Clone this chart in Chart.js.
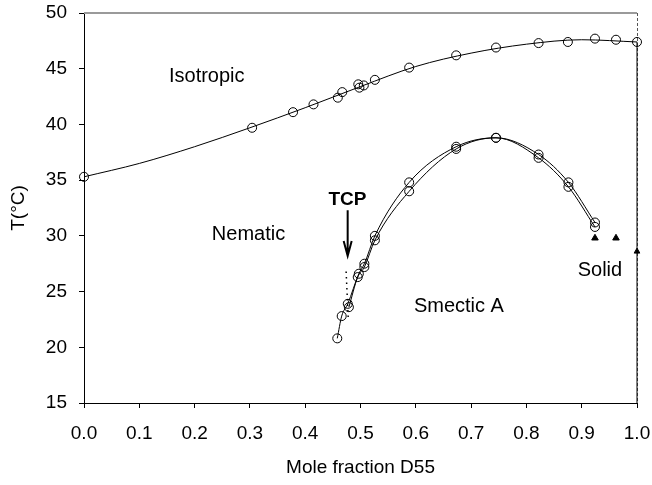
<!DOCTYPE html>
<html>
<head>
<meta charset="utf-8">
<script src="https://cdn.jsdelivr.net/npm/chart.js@4.4.0/dist/chart.umd.min.js"></script>
<style>
  html, body { margin: 0; padding: 0; background: #fff; }
  #wrap { width: 652px; height: 485px; }
</style>
</head>
<body>
<div id="wrap"><canvas id="phaseChart" width="652" height="485"></canvas></div>
<script>
// isotropic -> nematic points (open circles)
const isoX = [0.0, 0.304, 0.378, 0.415, 0.459, 0.467, 0.496, 0.498, 0.506, 0.526, 0.588, 0.673, 0.745, 0.822, 0.875, 0.924, 0.962, 1.0];
const isoT = [35.3, 39.7, 41.1, 41.8, 42.4, 42.9, 43.6, 43.3, 43.5, 44.0, 45.1, 46.2, 46.9, 47.3, 47.4, 47.7, 47.6, 47.4];
// fitted curve through them
const isoFitX = [0.0, 0.1, 0.2, 0.3, 0.4, 0.5, 0.6, 0.7, 0.8, 0.9, 1.0];
const isoFitT = [35.3, 36.5, 38.0, 39.7, 41.5, 43.4, 45.2, 46.4, 47.2, 47.6, 47.4];
// nematic -> smectic A, two runs
const smaX1 = [0.458, 0.466, 0.477, 0.497, 0.507, 0.526, 0.588, 0.673, 0.745, 0.822, 0.876, 0.924];
const smaT1 = [20.8, 22.8, 23.9, 26.6, 27.5, 30.0, 34.8, 38.0, 38.8, 37.3, 34.8, 31.2];
const smaX2 = [0.479, 0.495, 0.507, 0.526, 0.588, 0.673, 0.745, 0.822, 0.876, 0.924];
const smaT2 = [23.6, 26.3, 27.2, 29.6, 34.0, 37.8, 38.8, 37.0, 34.4, 30.8];
// melting (filled triangles)
const solidX = [0.924, 0.962];
const solidT = [29.8, 29.8];
const pureX = [1.0];
const pureT = [28.6];
const pureLineX = [1.0, 1.0];
const pureLineT = [15, 47.4];
// tricritical point, dotted
const tcpX = [0.474, 0.478];
const tcpT = [26.8, 22.4];

const xTicks = [0, 0.1, 0.2, 0.3, 0.4, 0.5, 0.6, 0.7, 0.8, 0.9, 1.0];
const yTicks = [15, 20, 25, 30, 35, 40, 45, 50];

const FONT = "'Liberation Sans', Arial, Helvetica, sans-serif";
const pts = (xs, ys) => xs.map((x, i) => ({ x, y: ys[i] }));

// text labels inside the plot (data units)
const notes = [
  { text: "Isotropic", x: 0.222, y: 44.45 },
  { text: "Nematic", x: 0.2975, y: 30.25 },
  { text: "TCP", x: 0.4765, y: 33.4, bold: true },
  { text: "Smectic A", x: 0.678, y: 23.8 },
  { text: "Solid", x: 0.933, y: 27.05 }
];

const decor = {
  id: "decor",
  beforeDatasetsDraw(chart) {
    const { ctx, chartArea: a } = chart;
    ctx.save();
    ctx.strokeStyle = "#9a9a9a";
    ctx.lineWidth = 2;
    ctx.beginPath();
    ctx.moveTo(a.left, a.top);
    ctx.lineTo(a.right, a.top);
    ctx.stroke();
    ctx.strokeStyle = "#555";
    ctx.lineWidth = 1;
    ctx.setLineDash([3, 2]);
    ctx.beginPath();
    ctx.moveTo(a.right + 0.5, a.top);
    ctx.lineTo(a.right + 0.5, a.bottom);
    ctx.stroke();
    ctx.restore();
  },
  afterDatasetsDraw(chart) {
    const { ctx, scales: { x, y } } = chart;
    ctx.save();
    ctx.fillStyle = "#000";
    ctx.textAlign = "center";
    ctx.textBaseline = "alphabetic";
    notes.forEach(n => {
      const size = n.bold ? 19 : 20;
      ctx.font = (n.bold ? "bold " : "") + size + "px " + FONT;
      ctx.fillText(n.text, x.getPixelForValue(n.x), y.getPixelForValue(n.y) + size * 0.358);
    });
    // TCP arrow
    const ax = x.getPixelForValue(0.4768);
    const y0 = y.getPixelForValue(32.3);
    const y1 = y.getPixelForValue(28.2);
    ctx.strokeStyle = "#000";
    ctx.lineWidth = 2;
    ctx.beginPath();
    ctx.moveTo(ax, y0);
    ctx.lineTo(ax, y1);
    ctx.moveTo(ax - 4, y1 - 15);
    ctx.lineTo(ax, y1);
    ctx.lineTo(ax + 4, y1 - 15);
    ctx.stroke();
    ctx.restore();
  }
};

new Chart(document.getElementById("phaseChart"), {
  type: "scatter",
  data: {
    datasets: [
      {
        data: pts(isoFitX, isoFitT), showLine: true, pointRadius: 0,
        borderColor: "#000", borderWidth: 1, cubicInterpolationMode: "monotone"
      },
      {
        data: pts(isoX, isoT), showLine: false, pointRadius: 4.5,
        pointBorderColor: "#000", pointBackgroundColor: "rgba(0,0,0,0)", pointBorderWidth: 1, clip: false
      },
      {
        data: pts(smaX1, smaT1), showLine: true, pointRadius: 4.5, cubicInterpolationMode: "monotone",
        borderColor: "#000", borderWidth: 1, pointBorderColor: "#000", pointBackgroundColor: "rgba(0,0,0,0)"
      },
      {
        data: pts(smaX2, smaT2), showLine: true, pointRadius: 4.5, cubicInterpolationMode: "monotone",
        borderColor: "#000", borderWidth: 1, pointBorderColor: "#000", pointBackgroundColor: "rgba(0,0,0,0)"
      },
      {
        data: pts(tcpX, tcpT), showLine: true, pointRadius: 0,
        borderColor: "#000", borderWidth: 1.5, borderDash: [1.5, 4]
      },
      {
        data: pts(pureLineX, pureLineT), showLine: true, pointRadius: 0,
        borderColor: "#000", borderWidth: 1, clip: false
      },
      {
        data: pts(solidX, solidT), showLine: false, pointStyle: "triangle", pointRadius: 3.8,
        pointBackgroundColor: "#000", pointBorderColor: "#000"
      },
      {
        data: pts(pureX, pureT), showLine: false, pointStyle: "triangle", pointRadius: 3.3,
        pointBackgroundColor: "#000", pointBorderColor: "#000", clip: false
      }
    ]
  },
  options: {
    responsive: false,
    animation: false,
    devicePixelRatio: 1,
    layout: { padding: { top: 13, right: 15, left: 0, bottom: 0 } },
    plugins: { legend: { display: false }, tooltip: { enabled: false } },
    scales: {
      x: {
        type: "linear", min: 0, max: 1,
        afterFit: s => { s.height = 82; s.paddingLeft = 0; s.paddingRight = 0; },
        afterBuildTicks: s => { s.ticks = xTicks.map(v => ({ value: v })); },
        ticks: { font: { family: FONT, size: 19 }, color: "#000", padding: 14, maxRotation: 0,
                 callback: v => v.toFixed(1) },
        grid: { drawOnChartArea: false, drawTicks: true, tickLength: 5, color: "#000" },
        border: { display: true, color: "#000", width: 1 },
        title: { display: true, text: "Mole fraction D55", color: "#000",
                 font: { family: FONT, size: 19 }, padding: { top: 4, bottom: 6 } }
      },
      y: {
        type: "linear", min: 15, max: 50,
        afterFit: s => { s.width = 84; s.paddingTop = 0; s.paddingBottom = 0; },
        afterBuildTicks: s => { s.ticks = yTicks.map(v => ({ value: v })); },
        ticks: { font: { family: FONT, size: 19 }, color: "#000", padding: 12 },
        grid: { drawOnChartArea: false, drawTicks: true, tickLength: 5, color: "#000" },
        border: { display: true, color: "#000", width: 1 },
        title: { display: true, text: "T(°C)", color: "#000",
                 font: { family: FONT, size: 19 }, padding: { top: 7, bottom: 0 } }
      }
    }
  },
  plugins: [decor]
});
</script>
</body>
</html>
